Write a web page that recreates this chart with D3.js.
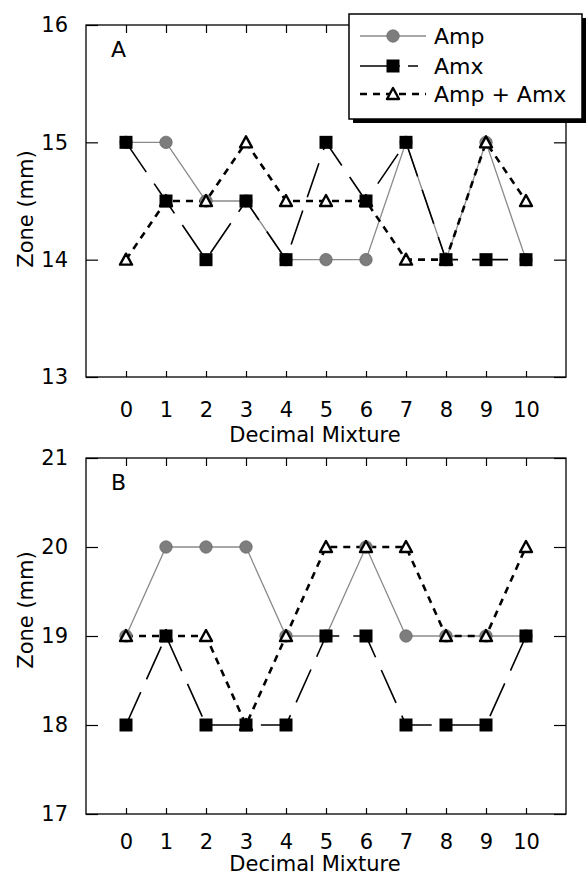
<!DOCTYPE html>
<html>
<head>
<meta charset="utf-8">
<script src="https://cdn.jsdelivr.net/npm/d3@7"></script>
<style>
  body { margin: 0; background: #fff; }
  text { font-family: "DejaVu Sans", sans-serif; fill: #000; }
</style>
</head>
<body>
<script>
// x categories
var mixture = [0, 1, 2, 3, 4, 5, 6, 7, 8, 9, 10];

// panel A values (mm)
var ampA   = [15, 15, 14.5, 14.5, 14, 14, 14, 15, 14, 15, 14];
var amxA   = [15, 14.5, 14, 14.5, 14, 15, 14.5, 15, 14, 14, 14];
var comboA = [14, 14.5, 14.5, 15, 14.5, 14.5, 14.5, 14, 14, 15, 14.5];

// panel B values (mm)
var ampB   = [19, 20, 20, 20, 19, 19, 20, 19, 19, 19, 19];
var amxB   = [18, 19, 18, 18, 18, 19, 19, 18, 18, 18, 19];
var comboB = [19, 19, 19, 18, 19, 20, 20, 20, 19, 19, 20];

var yTicksA = [13, 14, 15, 16];
var yTicksB = [17, 18, 19, 20, 21];

var seriesNames = ["Amp", "Amx", "Amp + Amx"];

var svg = d3.select("body").append("svg")
  .attr("width", 587)
  .attr("height", 880);

var x = d3.scaleLinear().domain([-1, 11]).range([86, 566]);

var lineStyles = [
  { stroke: "#8a8a8a", width: 1.3, dash: null },
  { stroke: "#000", width: 1.6, dash: "36,14" },
  { stroke: "#000", width: 2.6, dash: "7,6" }
];

function marker(g, kind, cx, cy) {
  if (kind == 0) {
    g.append("circle").attr("cx", cx).attr("cy", cy).attr("r", 6.2)
      .attr("fill", "#7d7d7d").attr("stroke", "#6a6a6a").attr("stroke-width", 0.8);
  } else if (kind == 1) {
    g.append("rect").attr("x", cx - 6.5).attr("y", cy - 6.5)
      .attr("width", 13).attr("height", 13).attr("fill", "#000");
  } else {
    g.append("path")
      .attr("d", "M" + cx + "," + (cy - 6) + "L" + (cx + 6) + "," + (cy + 5) + "L" + (cx - 6) + "," + (cy + 5) + "Z")
      .attr("fill", "#fff").attr("stroke", "#000").attr("stroke-width", 2.4)
      .attr("stroke-linejoin", "round");
  }
}

function drawPanel(top, bottom, domain, yTicks, series, letter, labelY, pad, titleY) {
  var y = d3.scaleLinear().domain(domain).range([bottom, top]);
  var g = svg.append("g");

  // frame
  g.append("rect")
    .attr("x", x.range()[0]).attr("y", top)
    .attr("width", x.range()[1] - x.range()[0]).attr("height", bottom - top)
    .attr("fill", "none").attr("stroke", "#000").attr("stroke-width", 1.3);

  var bAxis = g.append("g").attr("transform", "translate(0," + bottom + ")")
    .call(d3.axisBottom(x).tickValues(mixture).tickSize(-6).tickPadding(pad));
  var tAxis = g.append("g").attr("transform", "translate(0," + top + ")")
    .call(d3.axisTop(x).tickValues(mixture).tickSize(-8).tickFormat(""));
  var lAxis = g.append("g").attr("transform", "translate(" + x.range()[0] + ",0)")
    .call(d3.axisLeft(y).tickValues(yTicks).tickSize(-12).tickPadding(18).tickFormat(d3.format("d")));
  var rAxis = g.append("g").attr("transform", "translate(" + x.range()[1] + ",0)")
    .call(d3.axisRight(y).tickValues(yTicks).tickSize(-12).tickFormat(""));

  [bAxis, tAxis, lAxis, rAxis].forEach(function(a) {
    a.select(".domain").remove();
    a.selectAll("line").attr("stroke", "#000").attr("stroke-width", 1.2);
    a.selectAll("text").attr("font-size", 21).attr("font-family", "DejaVu Sans").attr("fill", "#000");
  });

  g.append("text")
    .attr("x", 315).attr("y", titleY)
    .attr("text-anchor", "middle").attr("font-size", 21)
    .text("Decimal Mixture");

  g.append("text")
    .attr("transform", "translate(33," + labelY + ") rotate(-90)")
    .attr("text-anchor", "middle").attr("font-size", 21)
    .text("Zone (mm)");

  g.append("text")
    .attr("x", 111).attr("y", top + 32)
    .attr("font-size", 22)
    .text(letter);

  var line = d3.line()
    .x(function(d, i) { return x(mixture[i]); })
    .y(function(d) { return y(d); });

  series.forEach(function(s, k) {
    var st = lineStyles[k];
    g.append("path")
      .attr("d", line(s))
      .attr("fill", "none")
      .attr("stroke", st.stroke)
      .attr("stroke-width", st.width)
      .attr("stroke-dasharray", st.dash);
  });

  [0, 2, 1].forEach(function(k) {
    series[k].forEach(function(d, i) {
      marker(g, k, x(mixture[i]), y(d));
    });
  });
}

drawPanel(25, 377, [13, 16], yTicksA, [ampA, amxA, comboA], "A", 209, 25, 442);
drawPanel(458, 814, [17, 21], yTicksB, [ampB, amxB, comboB], "B", 610, 20, 871);

// legend
var leg = svg.append("g");
leg.append("rect").attr("x", 353).attr("y", 18).attr("width", 233).attr("height", 105).attr("fill", "#000");
leg.append("rect").attr("x", 349).attr("y", 14).attr("width", 233).attr("height", 105)
  .attr("fill", "#fff").attr("stroke", "#000").attr("stroke-width", 1.5);

var legY = [36, 66, 94];
seriesNames.forEach(function(name, k) {
  var st = lineStyles[k];
  var ly = legY[k];
  leg.append("line")
    .attr("x1", 360).attr("x2", 426).attr("y1", ly).attr("y2", ly)
    .attr("stroke", st.stroke).attr("stroke-width", st.width)
    .attr("stroke-dasharray", k == 1 ? "40,8,10" : st.dash);
  marker(leg, k, 393, ly);
  leg.append("text")
    .attr("x", 434).attr("y", ly + 8)
    .attr("font-size", 22)
    .text(name);
});
</script>
</body>
</html>
